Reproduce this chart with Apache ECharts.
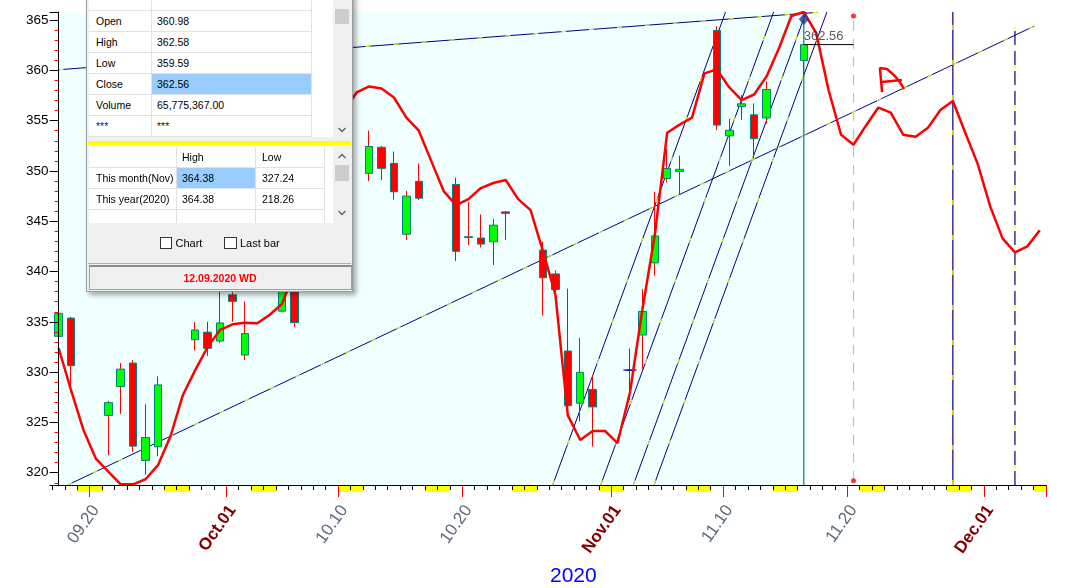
<!DOCTYPE html>
<html>
<head>
<meta charset="utf-8">
<title>SPY daily chart</title>
<script src="https://cdn.jsdelivr.net/npm/echarts@6.0.0/dist/echarts.min.js"></script>
<style>
  html, body { margin:0; padding:0; background:#ffffff; overflow:hidden; }
  #chart { position:absolute; left:0; top:0; width:1080px; height:588px; }
  #panel { position:absolute; left:0; top:0; width:1080px; height:588px; pointer-events:none;
           font-family:"Liberation Sans", Arial, sans-serif; font-size:10.5px; color:#000; }
  #panel div { box-sizing:border-box; }
</style>
</head>
<body>
<div id="chart"></div>
<div id="panel"></div>
<script>
// ---------------- DATA ----------------
const dates = [
 '09.17','09.18','09.19','09.20','09.21','09.22','09.23','09.24','09.25','09.26','09.27','09.28','09.29','09.30',
 '10.01','10.02','10.03','10.04','10.05','10.06','10.07','10.08','10.09','10.10','10.11','10.12','10.13','10.14','10.15','10.16',
 '10.17','10.18','10.19','10.20','10.21','10.22','10.23','10.24','10.25','10.26','10.27','10.28','10.29','10.30','10.31',
 '11.01','11.02','11.03','11.04','11.05','11.06','11.07','11.08','11.09','11.10','11.11','11.12','11.13','11.14','11.15',
 '11.16','11.17','11.18','11.19','11.20','11.21','11.22','11.23','11.24','11.25','11.26','11.27','11.28','11.29','11.30',
 '12.01','12.02','12.03','12.04','12.05'
];
const labelText = {'09.20':'09.20','10.01':'Oct.01','10.10':'10.10','10.20':'10.20',
                   '11.01':'Nov.01','11.10':'11.10','11.20':'11.20','12.01':'Dec.01'};
const monthStarts = ['10.01','11.01','12.01'];
const yearLabel = '2020';

const candleDates = ['09.17','09.18','09.21','09.22','09.23','09.24','09.25','09.28','09.29','09.30',
 '10.01','10.02','10.05','10.06','10.07','10.08','10.09','10.12','10.13','10.14','10.15','10.16',
 '10.19','10.20','10.21','10.22','10.23','10.26','10.27','10.28','10.29','10.30',
 '11.02','11.03','11.04','11.05','11.06','11.09','11.10','11.11','11.12','11.13','11.16'];
const opens  = [333.56,335.37,325.70,328.57,330.90,321.22,322.58,333.22,333.97,333.09,
 337.69,331.70,336.06,339.91,338.12,342.85,345.56,349.76,352.35,350.75,343.71,348.96,
 348.65,343.46,343.33,342.96,345.93,342.13,339.76,332.10,326.91,328.28,
 330.20,333.69,340.86,349.24,349.93,363.97,353.49,356.40,355.58,355.27,360.98];
const closes = [335.84,330.65,326.97,330.30,322.64,323.50,328.73,334.19,332.37,334.89,
 337.04,333.84,339.76,334.93,340.76,343.78,346.85,352.43,350.26,347.93,347.50,347.29,
 342.01,343.38,342.73,344.61,345.78,339.39,338.22,326.66,329.98,326.54,
 330.20,336.03,343.54,350.24,350.16,354.56,354.04,356.67,353.21,358.10,362.56];
const lows   = [332.99,327.97,321.73,325.86,322.10,319.80,321.64,332.15,331.62,332.88,
 335.01,331.19,336.01,334.50,338.09,341.86,344.89,349.00,349.10,347.14,343.13,347.10,
 341.04,342.64,342.40,340.65,343.13,335.62,337.99,326.13,325.09,322.60,
 327.24,330.29,339.59,348.86,347.65,354.06,350.51,355.06,351.26,354.71,359.59];
const highs  = [337.70,335.49,327.13,330.90,331.20,326.80,329.58,334.96,335.00,338.29,
 338.74,337.02,339.96,342.01,341.63,343.85,347.35,354.02,352.47,351.93,348.02,350.75,
 349.33,346.88,345.67,345.24,345.99,342.98,340.12,338.30,333.40,329.69,
 332.36,338.25,347.94,352.19,351.51,364.38,355.18,357.56,356.72,358.90,362.58];
const dojiMarks = [['11.02', 330.20]];

// red cycle / projection line, one value per calendar day
const cycleLine = [332.4,328.2,324.25,321.4,320.1,318.85,318.85,319.35,320.75,323.6,
 327.7,330.2,332.5,334.2,334.75,334.9,334.85,335.7,336.8,340.0,
 344.5,349.0,353.0,356.0,357.8,358.4,358.2,357.3,355.3,354.0,
 351.0,348.0,346.6,347.2,348.3,348.8,349.1,347.2,346.1,342.0,
 337.7,325.7,323.25,324.15,324.15,322.95,327.95,336.2,343.6,353.8,
 354.6,355.3,359.7,360.1,358.3,357.05,357.6,359.4,362.2,365.4,
 365.8,363.7,358.0,353.6,352.6,354.5,356.3,355.8,353.6,353.4,
 354.3,356.05,356.95,353.8,350.7,346.5,343.3,341.9,342.5,344.1];

// trend lines: [dayIndex, price] endpoints (day index 0 = 09.17)
const longLines = [
  [[0.73, 318.78], [78.56, 364.4]],
  [[0.00, 360.06], [61.12, 365.77]]
];
const steepLines = [
  [[39.78, 318.78], [53.70, 365.8]],
  [[43.65, 318.78], [57.57, 365.8]],
  [[46.27, 318.78], [60.19, 365.8]],
  [[47.94, 318.78], [61.86, 365.8]]
];
const verticalNavy   = [[72, 318.78], [72, 365.8]];
const verticalDashed = [[77, 318.78], [77, 364.3]];
const verticalTeal   = [[60, 318.78], [60, 365.8]];
const verticalGrey   = [[64, 319.2], [64, 365.4]];
const greyEndDots    = [[64, 365.4], [64, 319.2]];
const lastCloseLine  = [[60, 362.56], [64, 362.56]];
const lastCloseLabel = '362.56';
const diamondMark    = [[60, 365.07]];
const shadeRange     = [0, 60];
const scribbleA      = [[66.30,357.84],[66.13,360.23],[66.70,360.13],[67.26,359.53],[67.74,358.84],[68.07,358.14]];
const scribbleBar    = [[66.30,358.84],[67.90,359.04]];

// info panel
const infoRows = [['Open','360.98'],['High','362.58'],['Low','359.59'],['Close','362.56'],['Volume','65,775,367.00'],['***','***']];
const rangeHead = ['High','Low'];
const rangeRows = [['This month(Nov)','364.38','327.24'],['This year(2020)','364.38','218.26']];
const checkLabels = ['Chart','Last bar'];
const statusText = '12.09.2020 WD';

// ---------------- CHART ----------------
const Y_MIN = 318.78, Y_MAX = 365.8;
function isWeekend(v) {
  const d = new Date(2020, +v.slice(0,2) - 1, +v.slice(3));
  const w = d.getDay();
  return w === 0 || w === 6;
}
const idxOf = {};
candleDates.forEach((d, i) => idxOf[d] = i);
const wickData = dates.map(d => {
  const i = idxOf[d];
  return i === undefined ? '-' : [opens[i], closes[i], lows[i], highs[i]];
});
const bodyData = dates.map(d => {
  const i = idxOf[d];
  return i === undefined ? '-' : [opens[i], closes[i], Math.min(opens[i], closes[i]), Math.max(opens[i], closes[i])];
});

const chart = echarts.init(document.getElementById('chart'), null, {renderer:'canvas', width:1080, height:588});
const FONT = 'Liberation Sans, Arial, sans-serif';

const catBase = {type:'category', data:dates, gridIndex:0, position:'bottom', boundaryGap:true,
  axisLine:{show:false}, splitLine:{show:false}, axisLabel:{show:false}, axisTick:{show:false}};

const series = [];
series.push({type:'line', xAxisIndex:3, yAxisIndex:0, data:[[0, Y_MIN]], symbol:'none', z:0, silent:true,
  lineStyle:{opacity:0},
  markArea:{silent:true, itemStyle:{color:'#F0FFFF'},
    data:[[{xAxis:shadeRange[0], yAxis:Y_MIN}, {xAxis:shadeRange[1], yAxis:Y_MAX}]]}});

function seg(data, style, z) {
  return {type:'line', xAxisIndex:3, yAxisIndex:0, data:data, symbol:'none', silent:true, z:z||1,
          lineStyle:style, animation:false};
}
longLines.forEach(l => {
  series.push(seg(l, {color:'#000080', width:1}));
  series.push(seg(l, {color:'#FFFF00', width:1, type:[5, 23]}));
});
steepLines.forEach(l => {
  series.push(seg(l, {color:'#000080', width:1}));
  series.push(seg(l, {color:'#FFFF00', width:1, type:[5, 38]}));
});
series.push(seg(verticalNavy, {color:'#000080', width:1.2}));
series.push(seg(verticalNavy, {color:'#FFFF00', width:1.2, type:[5, 30]}));
series.push(seg(verticalDashed, {color:'#000080', width:1.2, type:[14, 6]}));
series.push(seg(verticalDashed, {color:'#FFFF00', width:1.2, type:[4, 36], dashOffset:-16}));
series.push(seg(verticalTeal, {color:'#008080', width:1.2}, 2));
series.push(seg(verticalGrey, {color:'#C0C0C0', width:1.2, type:[10, 8]}, 2));

series.push({type:'candlestick', xAxisIndex:1, yAxisIndex:0, data:wickData, barWidth:0.01, z:3, silent:true,
  itemStyle:{color:'#FF0000', color0:'#FF0000', borderColor:'#FF0000', borderColor0:'#FF0000', borderWidth:1}});
series.push({type:'candlestick', xAxisIndex:1, yAxisIndex:0, data:bodyData, barWidth:8, z:4, silent:true,
  itemStyle:{color:'#00FF00', color0:'#FF0000', borderColor:'#008080', borderColor0:'#008080', borderWidth:1}});
series.push({type:'scatter', xAxisIndex:1, yAxisIndex:0, data:dojiMarks, symbol:'rect', symbolSize:[13, 1.6],
  itemStyle:{color:'#0000A0'}, z:5, silent:true});

series.push({type:'line', xAxisIndex:1, yAxisIndex:0, data:cycleLine, symbol:'none', z:6, silent:true,
  lineStyle:{color:'#FF0000', width:2.5}});

series.push(seg(scribbleA, {color:'#FF0000', width:2.5}, 6));
series.push(seg(scribbleBar, {color:'#FF0000', width:2.5}, 6));

series.push(seg(lastCloseLine, {color:'#000000', width:1}, 6));
series.push({type:'scatter', xAxisIndex:3, yAxisIndex:0, data:[lastCloseLine[0]], symbolSize:0, z:7, silent:true,
  label:{show:true, position:'top', distance:2, align:'left', formatter:lastCloseLabel,
         fontSize:13, color:'#333333', fontFamily:FONT}});
series.push({type:'scatter', xAxisIndex:3, yAxisIndex:0, data:diamondMark, symbol:'diamond', symbolSize:[10, 12],
  itemStyle:{color:'#1A3CB0'}, z:7, silent:true});
series.push({type:'scatter', xAxisIndex:3, yAxisIndex:0, data:greyEndDots, symbol:'circle', symbolSize:5,
  itemStyle:{color:'#FF0000'}, z:7, silent:true});

const option = {
  animation:false,
  backgroundColor:'#ffffff',
  title:{text:yearLabel, left:550, top:566, padding:0,
         textStyle:{fontSize:21, color:'#0000FF', fontWeight:'normal', fontFamily:FONT}},
  grid:[
    {left:52.4, right:34, top:12, bottom:103},
    {left:58.6, right:34, top:12, bottom:103}
  ],
  xAxis:[
    Object.assign({}, catBase, {z:1, axisTick:{show:true, alignWithLabel:true,
        interval:(i, v) => isWeekend(v), length:7, lineStyle:{color:'#FFFF00', width:12.9}}}),
    Object.assign({}, catBase, {z:2,
        axisTick:{show:true, interval:0, length:5, lineStyle:{color:'#000000', width:1}},
        axisLabel:{show:true, interval:(i, v) => !!labelText[v], rotate:55, margin:22,
          formatter:(v) => labelText[v] ? (monthStarts.indexOf(v) >= 0 ? '{m|' + labelText[v] + '}' : '{d|' + labelText[v] + '}') : '',
          rich:{
            d:{color:'#5C6878', fontSize:17, fontFamily:FONT},
            m:{color:'#800000', fontSize:17, fontWeight:'bold', fontFamily:FONT}
          }}}),
    Object.assign({}, catBase, {z:3, axisTick:{show:true, interval:(i, v) => !!labelText[v], length:12,
        lineStyle:{color:'#FF0000', width:1}}}),
    {type:'value', gridIndex:0, min:-0.5, max:79.5, show:false},
    {type:'value', gridIndex:1, min:0, max:1, position:'bottom', z:10,
     axisLine:{show:true, lineStyle:{color:'#000000', width:1}},
     axisTick:{show:false}, axisLabel:{show:false}, splitLine:{show:false}}
  ],
  yAxis:[
    {type:'value', gridIndex:0, min:Y_MIN, max:Y_MAX, splitNumber:9, position:'left', offset:-6.2, z:10,
     axisLine:{show:true, lineStyle:{color:'#000000', width:1}},
     axisTick:{show:true, length:9, lineStyle:{color:'#000000', width:1}},
     minorTick:{show:true, splitNumber:5, length:4, lineStyle:{color:'#FF0000', width:1}},
     axisLabel:{show:true, margin:10, fontSize:13.5, color:'#000000', fontFamily:FONT,
       formatter:(v) => (Math.abs(v - Math.round(v / 5) * 5) < 1e-6 ? String(Math.round(v)) : '')},
     splitLine:{show:false}, minorSplitLine:{show:false}},
    {type:'value', gridIndex:1, show:false, min:0, max:1}
  ],
  series:series
};
chart.setOption(option);

// ---------------- INFO PANEL (overlay window) ----------------
const panel = document.getElementById('panel');
function box(l, t, w, h, css, text) {
  const d = document.createElement('div');
  d.style.cssText = 'position:absolute;left:' + l + 'px;top:' + t + 'px;width:' + w + 'px;height:' + h + 'px;' + (css || '');
  if (text != null) d.textContent = text;
  panel.appendChild(d);
  return d;
}
function txt(x, cy, s, css) {
  const d = document.createElement('div');
  d.style.cssText = 'position:absolute;left:' + x + 'px;top:' + (cy - 7) + 'px;height:14px;line-height:14px;white-space:nowrap;' + (css || '');
  d.textContent = s;
  panel.appendChild(d);
  return d;
}
function chevron(cx, cy, up) {
  const ns = 'http://www.w3.org/2000/svg';
  const s = document.createElementNS(ns, 'svg');
  s.setAttribute('width', '10'); s.setAttribute('height', '8');
  s.style.cssText = 'position:absolute;left:' + (cx - 5) + 'px;top:' + (cy - 4) + 'px;';
  const p = document.createElementNS(ns, 'polyline');
  p.setAttribute('points', up ? '1.5,6 5,2.5 8.5,6' : '1.5,2 5,5.5 8.5,2');
  p.setAttribute('fill', 'none'); p.setAttribute('stroke', '#606060'); p.setAttribute('stroke-width', '1.3');
  s.appendChild(p);
  panel.appendChild(s);
}
const GRID = '#E2E2E2';
// outer window
box(86, -14, 267, 306, 'background:#F0F0F0;border:1px solid #9C9C9C;box-shadow:3px 3px 5px rgba(0,0,0,0.35);');
// upper table
box(89, -14, 244, 151, 'background:#FFFFFF;');
for (let k = -1; k <= 6; k++) box(89, 10 + 21 * k, 222, 1, 'background:' + GRID);
box(151, -14, 1, 151, 'background:' + GRID);
box(311, -14, 1, 151, 'background:' + GRID);
box(152, 74, 159, 20, 'background:#99CCFF;');
infoRows.forEach((r, k) => {
  const cy = 21 + 21 * k;
  txt(96, cy, r[0], r[0] === '***' ? 'color:#1A1A80;' : '');
  txt(157, cy, r[1], r[1] === '***' ? 'color:#202020;' : '');
});
box(333, -14, 17, 151, 'background:#F0F0F0;');
box(334.5, 8.5, 14, 15, 'background:#CDCDCD;');
chevron(341.5, 130, false);
// yellow splitter
box(88, 140.5, 263, 4, 'background:#FFFF00;');
// lower table
box(89, 146.5, 244, 76, 'background:#FFFFFF;');
[167, 188, 209].forEach(y => box(89, y, 235, 1, 'background:' + GRID));
[176, 255, 324].forEach(x => box(x, 146.5, 1, 76, 'background:' + GRID));
box(177, 168, 78, 20, 'background:#99CCFF;');
txt(182, 157, rangeHead[0]);
txt(262, 157, rangeHead[1]);
rangeRows.forEach((r, k) => {
  const cy = 178 + 21 * k;
  txt(96, cy, r[0]); txt(182, cy, r[1]); txt(262, cy, r[2]);
});
box(333, 146.5, 17, 76, 'background:#F0F0F0;');
chevron(341.5, 156, true);
box(334.5, 164.5, 14, 16.5, 'background:#CDCDCD;');
chevron(341.5, 213, false);
// checkboxes
box(159.5, 236.5, 12.5, 12.5, 'background:#FFFFFF;border:1px solid #333333;');
txt(175.5, 243, checkLabels[0], 'font-size:11px;');
box(224, 236.5, 12.5, 12.5, 'background:#FFFFFF;border:1px solid #333333;');
txt(240, 243, checkLabels[1], 'font-size:11px;');
// status bar
box(88, 262.5, 263, 1, 'background:#B0B0B0;');
box(88.5, 265, 263, 25, 'background:#F0F0F0;border:1px solid #A0A0A0;border-top:2px solid #8C8C8C;');
const st = txt(88.5, 277.7, statusText, 'width:263px;text-align:center;color:#FF0000;font-weight:bold;');
</script>
</body>
</html>
